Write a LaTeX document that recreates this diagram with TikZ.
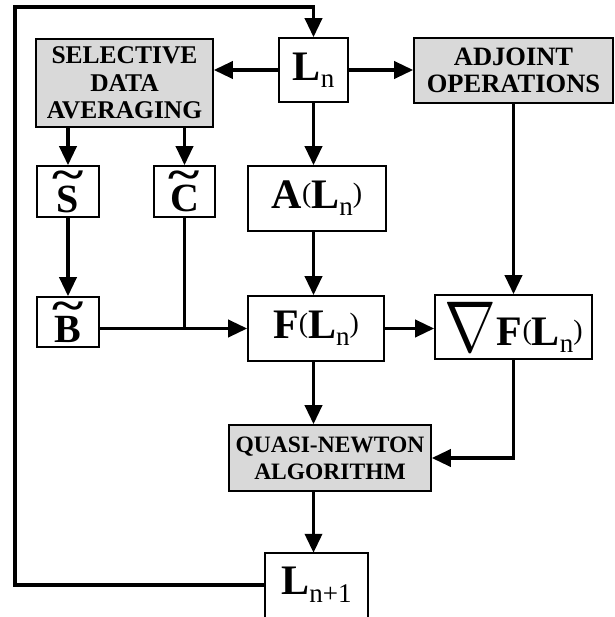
\documentclass[tikz,border=0pt]{standalone}
\usepackage{fontspec}
\setmainfont{Liberation Serif}
\usetikzlibrary{arrows.meta}
\newcommand\mysub[3]{\raisebox{-#3}{\mdseries\fontsize{#2}{#2}\selectfont #1}}
\newcommand\mypar[2]{\raisebox{#2}{\mdseries\fontsize{#1}{#1}\selectfont(}}
\newcommand\myparr[2]{\raisebox{#2}{\mdseries\fontsize{#1}{#1}\selectfont)}}
\newcommand\mynabla{\raisebox{-6pt}{\fontsize{10}{12}\selectfont\scalebox{6.2}[7.2]{$\nabla$}}\kern1pt}
\newcommand\tilbig[1]{\setbox0\hbox{#1}\rlap{\copy0}\makebox[\wd0][c]{\raisebox{\dimexpr\ht0-4pt\relax}{\scalebox{1.5}[1.1]{\textasciitilde}}}}
\tikzset{
  box/.style={draw, line width=1.6pt, inner sep=0pt, fill=white},
  gbox/.style={box, fill=gray!30, align=center},
  conn/.style={line width=3.6pt},
  arr/.style={conn, -{Triangle[length=19pt,width=17pt]}},
  tbox/.style={box, minimum width=62pt, minimum height=51pt, font=\fontsize{40}{40}\selectfont\bfseries},
}
\begin{document}
\begin{tikzpicture}[x=1pt,y=-1pt]
\useasboundingbox (0,0) rectangle (614,617);
% nodes
\node[box, minimum width=69pt, minimum height=64pt, font=\fontsize{42}{42}\selectfont\bfseries] (Ln) at (313.5,70) {L\mysub{n}{27}{7pt}};
\node[gbox, minimum width=177pt, minimum height=88pt, font=\fontsize{25.5}{27.5}\selectfont\bfseries] (sda) at (124.5,83) {SELECTIVE\\DATA\\AVERAGING};
\node[gbox, minimum width=199pt, minimum height=65pt, font=\fontsize{26.5}{27}\selectfont\bfseries] (adj) at (513.5,70.5) {ADJOINT\\OPERATIONS};
\node[tbox, text depth=0pt] (S) at (68,191.5) {\tilbig{S}};
\node[tbox, minimum width=61pt] (C) at (184.5,191.5) {\tilbig{C}};
\node[box, minimum width=138pt, minimum height=65pt, font=\fontsize{42}{42}\selectfont\bfseries] (A) at (317,198.5) {A\mypar{28}{6pt}L\mysub{n}{27}{7pt}\myparr{28}{6pt}};
\node[tbox, minimum height=50pt] (B) at (68,322) {\tilbig{B}};
\node[box, minimum width=136pt, minimum height=65pt, font=\fontsize{42}{42}\selectfont\bfseries] (F) at (316,328.5) {F\mypar{28}{6pt}L\mysub{n}{27}{7pt}\myparr{28}{6pt}};
\node[box, minimum width=157pt, minimum height=64pt, font=\fontsize{42}{42}\selectfont\bfseries] (gF) at (513.5,327) {\mynabla F\mypar{28}{6pt}L\mysub{n}{27}{7pt}\myparr{28}{6pt}};
\node[gbox, minimum width=202pt, minimum height=66pt, font=\fontsize{23.5}{27}\selectfont\bfseries] (qn) at (330,458) {QUASI-NEWTON\\ALGORITHM};
\node[inner sep=0pt, minimum width=103pt, minimum height=64pt, font=\fontsize{42}{42}\selectfont\bfseries] (Ln1) at (316.5,585) {L\mysub{n+1}{27}{8pt}};
\draw[line width=1.6pt] (Ln1.south west) -- (Ln1.north west) -- (Ln1.north east) -- (Ln1.south east);
% coordinates for loop
\coordinate (lb) at (15,585);
\coordinate (lt) at (15,7);
% connectors
\draw[arr] (Ln.west) -- (Ln.west -| sda.east);
\draw[arr] (Ln.east) -- (Ln.east -| adj.west);
\draw[arr] (S.north |- sda.south) -- (S.north);
\draw[arr] (C.north |- sda.south) -- (C.north);
\draw[arr] (Ln.south) -- (Ln.south |- A.north);
\draw[arr] (S.south) -- (B.north);
\draw[arr] (F.west -| B.east) -- (F.west);
\draw[conn] (C.south) -- (C.south |- F.west);
\draw[arr] (Ln.south |- A.south) -- (Ln.south |- F.north);
\draw[arr] (F.east) -- (F.east -| gF.west);
\draw[arr] (adj.south) -- (adj.south |- gF.north);
\draw[arr] (Ln.south |- F.south) -- (Ln.south |- qn.north);
\draw[arr] (gF.south) -- (gF.south |- qn.east) -- (qn.east);
\draw[arr] (Ln.south |- qn.south) -- (Ln.south |- Ln1.north);
\draw[arr] (Ln1.west) -- (lb) -- (lt) -- (lt -| Ln.north) -- (Ln.north);
\end{tikzpicture}
\end{document}
